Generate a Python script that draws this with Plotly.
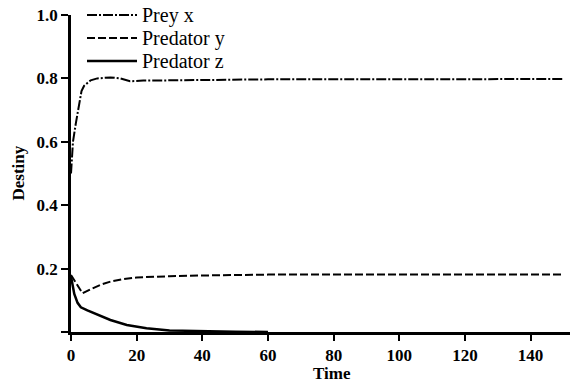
import plotly.graph_objects as go

# Data
t_x = [0, 0.6, 1.5, 2.5, 3.2, 4, 5, 6, 8, 12, 15, 18, 22, 30, 40, 50, 60, 80, 100, 120, 150]
prey_x = [0.50, 0.60, 0.66, 0.72, 0.76, 0.777, 0.787, 0.794, 0.800, 0.803, 0.800, 0.791, 0.793,
          0.794, 0.795, 0.796, 0.797, 0.797, 0.797, 0.797, 0.798]

t_y = [0, 3.5, 6, 9, 12, 16, 20, 30, 44, 60, 80, 100, 120, 150]
pred_y = [0.18, 0.122, 0.135, 0.149, 0.159, 0.167, 0.172, 0.176, 0.179, 0.181, 0.181, 0.181, 0.181, 0.181]

t_z = [0, 1, 2, 3, 5, 7, 12, 17, 23, 30, 40, 50, 60]
pred_z = [0.175, 0.12, 0.092, 0.078, 0.068, 0.060, 0.038, 0.022, 0.012, 0.005, 0.002, 0.001, 0.0]

names = ["Prey x", "Predator y", "Predator z"]
dashes = ["10px,2px,2px,2px", "8px,3px", "solid"]
widths = [2, 2, 2.5]

x_ticks = [0, 20, 40, 60, 80, 100, 120, 140]
y_ticks = [0, 0.2, 0.4, 0.6, 0.8, 1.0]
y_ticktext = ["", "0.2", "0.4", "0.6", "0.8", "1.0"]

W, H = 571, 383
L, R, T, B = 71, 1, 15, 51
SERIF = "Liberation Serif, Times New Roman, Times, serif"

fig = go.Figure()
for tt, vv, nm, ds, lw in zip([t_x, t_y, t_z], [prey_x, pred_y, pred_z], names, dashes, widths):
    fig.add_trace(go.Scatter(x=tt, y=vv, mode="lines", name=nm,
                             line=dict(color="black", width=lw, dash=ds), showlegend=False))

tickfont = dict(family=SERIF, size=17, color="black", weight="bold")

fig.update_layout(
    width=W, height=H,
    margin=dict(l=L, r=R, t=T, b=B, autoexpand=False),
    paper_bgcolor="white", plot_bgcolor="white",
    font=dict(family=SERIF, color="black"),
    xaxis=dict(range=[0, 152], tickvals=x_ticks, ticks="outside", ticklen=6, tickwidth=2,
               tickcolor="black", showline=True, linecolor="black", linewidth=2.5,
               showgrid=False, zeroline=False, tickfont=tickfont, automargin=False),
    yaxis=dict(range=[0, 1.0], tickvals=y_ticks, ticktext=y_ticktext, ticks="outside",
               ticklen=7, tickwidth=2, tickcolor="black", showline=True, linecolor="black",
               linewidth=2.5, showgrid=False, zeroline=False, tickfont=tickfont, automargin=False),
)

# axis titles
fig.add_annotation(text="Time", xref="paper", yref="paper", x=(332 - L) / (W - L - R), y=0,
                   yshift=-(373 - (H - B)), showarrow=False, yanchor="middle",
                   font=dict(family=SERIF, size=17, color="black", weight="bold"))
fig.add_annotation(text="Destiny", xref="paper", yref="paper", x=0, xshift=-(L - 18), y=0.5,
                   textangle=-90, showarrow=False, xanchor="center",
                   font=dict(family=SERIF, size=17, color="black", weight="bold"))

# custom legend
pw, ph = W - L - R, H - T - B
rows = [15, 38, 61]
for nm, ds, lw, py in zip(names, dashes, widths, rows):
    yy = (H - B - py) / ph
    fig.add_shape(type="line", xref="paper", yref="paper",
                  x0=(87 - L) / pw, x1=(137 - L) / pw, y0=yy, y1=yy,
                  line=dict(color="black", width=lw, dash=ds))
    fig.add_annotation(text=nm, xref="paper", yref="paper", x=(140 - L) / pw, y=yy,
                       xanchor="left", yanchor="middle", showarrow=False,
                       font=dict(family=SERIF, size=20, color="black"))

fig.write_html("out.html", config={"displayModeBar": False},
               post_script="document.body.style.margin='0';document.body.style.padding='0';")
